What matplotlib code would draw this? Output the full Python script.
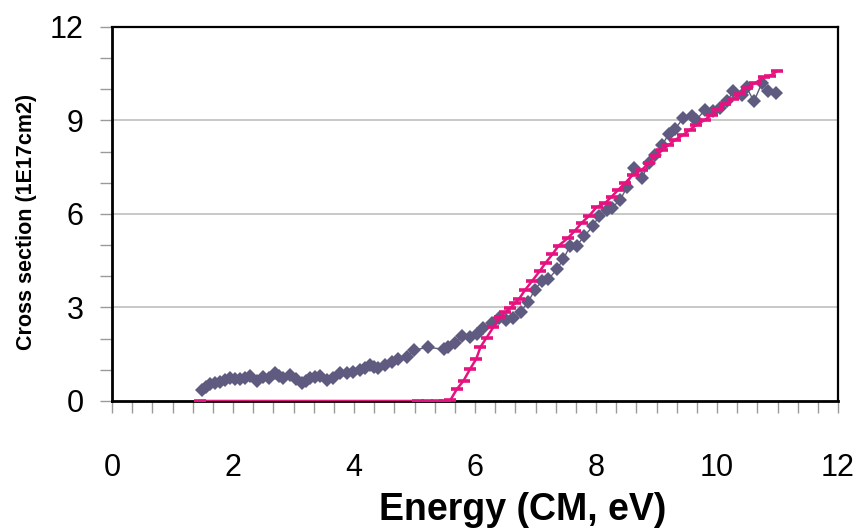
"""Cross section vs. collision energy: measured points and threshold fit."""

import numpy as np
import matplotlib
matplotlib.use('Agg')
import matplotlib.pyplot as plt
from matplotlib.ticker import FixedLocator, MultipleLocator

plt.rcParams['font.family'] = ['Liberation Sans', 'DejaVu Sans']

# Measured cross section (purple diamonds)
meas_energy = [
    1.48, 1.55, 1.62, 1.70, 1.79, 1.87, 1.95, 2.03, 2.12, 2.20, 2.28, 2.39,
    2.50, 2.60, 2.69, 2.76, 2.83, 2.94, 3.04, 3.14, 3.20, 3.27, 3.35, 3.44,
    3.55, 3.66, 3.77, 3.88, 3.99, 4.10, 4.18, 4.26, 4.33, 4.40, 4.51, 4.62,
    4.73, 4.87, 4.99, 5.23, 5.48, 5.56, 5.67, 5.78, 5.92, 6.03, 6.14, 6.28,
    6.39, 6.52, 6.63, 6.76, 6.88, 6.99, 7.10, 7.21, 7.35, 7.46, 7.57, 7.68,
    7.80, 7.95, 8.05, 8.18, 8.26, 8.40, 8.51, 8.62, 8.76, 8.87, 8.98, 9.09,
    9.20, 9.31, 9.44, 9.58, 9.66, 9.80, 9.94, 10.05, 10.16, 10.27, 10.41,
    10.49, 10.61, 10.74, 10.85, 10.98,
]
meas_sigma = [
    0.35, 0.45, 0.55, 0.58, 0.62, 0.66, 0.73, 0.70, 0.70, 0.74, 0.80, 0.65,
    0.78, 0.75, 0.89, 0.80, 0.73, 0.83, 0.72, 0.57, 0.65, 0.73, 0.76, 0.80,
    0.67, 0.73, 0.89, 0.91, 0.94, 0.99, 1.05, 1.15, 1.08, 1.05, 1.15, 1.26,
    1.34, 1.42, 1.64, 1.72, 1.66, 1.73, 1.86, 2.08, 2.06, 2.16, 2.33, 2.51,
    2.65, 2.60, 2.65, 2.87, 3.19, 3.57, 3.84, 3.90, 4.22, 4.55, 4.98, 4.98,
    5.28, 5.61, 5.95, 6.12, 6.19, 6.46, 6.85, 7.47, 7.15, 7.63, 7.90, 8.20,
    8.56, 8.73, 9.08, 9.13, 9.02, 9.34, 9.29, 9.40, 9.61, 9.93, 9.82,
    10.06, 9.61, 10.20, 9.95, 9.88,
]

# Threshold model (pink); NaN marks the breaks in the drawn line
fit_energy = [
    1.45, 5.05, np.nan, 5.20, np.nan, 5.37, np.nan, 5.50,
    5.59, 5.70, 5.81, 5.92, 6.02, 6.09, 6.19, 6.30, 6.41, 6.50, 6.58, 6.66,
    6.73, 6.83, 6.94, 7.07, 7.17, 7.28, 7.38, 7.53, 7.65, 7.76, 7.89, 8.01,
    8.15, 8.26, 8.37, 8.48, 8.61, 8.76, 8.87, 8.98, 9.09, 9.19, 9.31, 9.44,
    9.55, 9.66, 9.80, 9.91, 10.02, 10.13, 10.27, 10.38, 10.49, 10.63, 10.77,
    10.88, 10.99,
]
fit_sigma = [
    0.0, 0.0, np.nan, 0.0, np.nan, 0.0, np.nan, 0.0,
    0.02, 0.38, 0.65, 1.03, 1.35, 1.73, 2.03, 2.36, 2.69, 2.84, 2.98, 3.13,
    3.28, 3.57, 3.84, 4.17, 4.44, 4.71, 4.98, 5.22, 5.46, 5.71, 5.95, 6.22,
    6.35, 6.56, 6.78, 6.99, 7.26, 7.42, 7.63, 7.85, 8.04, 8.20, 8.38, 8.54,
    8.70, 8.86, 9.02, 9.18, 9.37, 9.53, 9.70, 9.85, 10.04, 10.20, 10.38,
    10.44, 10.58,
]

x_major = [0, 2, 4, 6, 8, 10, 12]
y_major = [0, 3, 6, 9, 12]

PURPLE = '#5f5a80'
PINK = '#e6127f'

fig = plt.figure(figsize=(8.59, 5.29), dpi=100, facecolor='white')
ax = fig.add_axes([0.1304, 0.242, 0.8452, 0.707])

# Horizontal gridlines at the labelled y ticks
for y in y_major[1:-1]:
    ax.axhline(y, color='#c4c4c4', linewidth=1.3, zorder=0)

ax.plot(fit_energy, fit_sigma, color=PINK, linewidth=1.8, marker='_',
        markersize=9, markeredgewidth=2.6, zorder=3)
ax.plot(meas_energy, meas_sigma, color=PURPLE, linewidth=1.0, marker='D',
        markersize=7.5, markeredgewidth=0, zorder=2)

ax.set_xlim(0, 12)
ax.set_ylim(0, 12)

# Ticks: labelled majors, unlabelled minors (Excel style)
ax.xaxis.set_major_locator(FixedLocator(x_major))
ax.xaxis.set_minor_locator(MultipleLocator(1 / 3))
ax.yaxis.set_major_locator(FixedLocator(y_major))
ax.yaxis.set_minor_locator(MultipleLocator(1))
ax.tick_params(axis='both', which='both', direction='out', color='#9a9a9a',
               width=1.0, length=8.5)
ax.tick_params(axis='x', which='major', labelsize=22, pad=29)
ax.tick_params(axis='y', which='major', labelsize=22, pad=12)

for side in ['top', 'right']:
    ax.spines[side].set_linewidth(1.6)
for side in ['left', 'bottom']:
    ax.spines[side].set_linewidth(2.0)

ax.set_xlabel('Energy (CM, eV)', fontsize=27, fontweight='bold')
ax.xaxis.set_label_coords(0.566, -0.243)
ax.set_ylabel('Cross section (1E17cm2)', fontsize=15.5, fontweight='bold')
ax.yaxis.set_label_coords(-0.103, 0.48)

fig.savefig('out.png', dpi=100, facecolor='white')
